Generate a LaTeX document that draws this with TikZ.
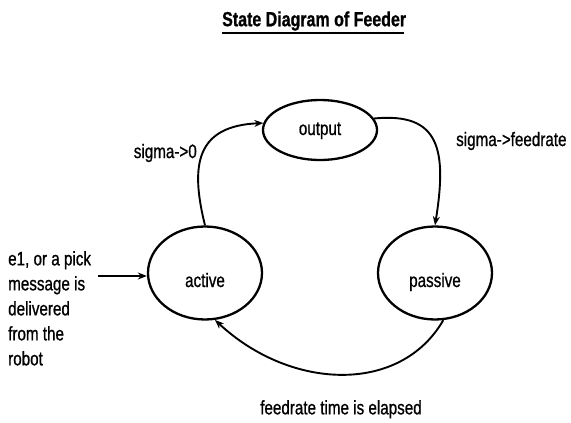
\documentclass[tikz,border=0pt]{standalone}
\usepackage{fontspec}
\setmainfont{Liberation Sans}[FakeStretch=0.78,FakeBold=0.8]
\usetikzlibrary{shapes.geometric,arrows.meta}
% state name set lower than the centre of its ellipse
\newcommand{\lowtext}[2]{\raisebox{-#1}[0pt][0pt]{#2}}
\begin{document}
\begin{tikzpicture}[x=1pt,y=-1pt,
  txt/.style={font=\fontsize{19.5}{25}\selectfont},
  state/.style={draw,ellipse,line width=2.3pt,inner sep=0pt,
    minimum width=114pt,minimum height=93pt,txt},
  label/.style={txt,inner sep=0pt},
  conn/.style={line width=1.9pt,-{Stealth[length=9pt,width=7pt]}},
  openconn/.style={line width=1.9pt,-{Stealth[open,length=9pt,width=7pt,line width=1.4pt]}}]
\useasboundingbox (0,0) rectangle (571,423);
% title
\node[font=\bfseries\fontsize{20.5}{24}\selectfont,inner sep=0pt,anchor=west] (title) at (222,21) {State Diagram of Feeder};
\draw[line width=2pt] (222,33) -- (404,33);
% states
\node[state,minimum height=60pt] (output) at (320,130) {\lowtext{5pt}{output}};
\node[state] (active) at (205,273) {\lowtext{14pt}{active}};
\node[state] (passive) at (435,273) {\lowtext{14pt}{passive}};
% labels
\node[label,anchor=east] (l0) at (197,153) {sigma->0};
\node[label,anchor=west] (lf) at (456,141) {sigma->feedrate};
\node[label,anchor=north] (le) at (341,400) {feedrate time is elapsed};
\node[label,anchor=north west,align=left] (lin) at (8,251)
  {e1, or a pick\\message is\\delivered\\from the\\robot};
\coordinate (in) at (98,276);
% transitions
\draw[conn] (in) -- (active.west |- in);
\draw[conn] (active.north) .. controls (190,165) and (196,126) .. (output.173);
\draw[conn] (output.12) .. controls (440,112) and (447,150) .. (passive.north);
\draw[openconn] (passive.-80) .. controls (400,395) and (290,390) .. (active.-78);
\end{tikzpicture}
\end{document}
